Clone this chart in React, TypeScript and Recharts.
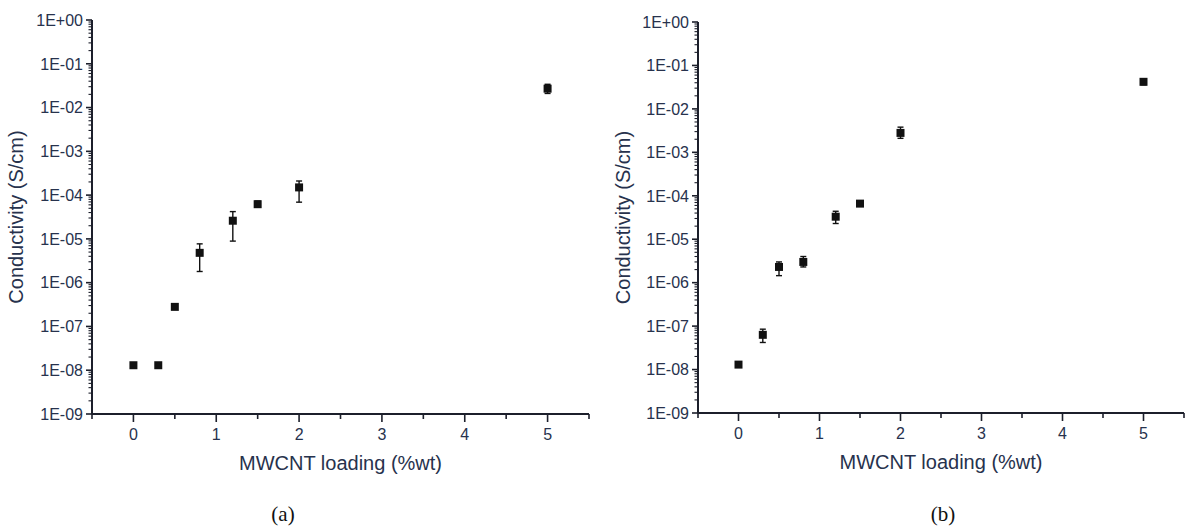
import React from 'react';
import { ScatterChart, Scatter, XAxis, YAxis, ZAxis, ErrorBar } from 'recharts';

// MWCNT loading (%wt)
const loadingA = [0, 0.3, 0.5, 0.8, 1.2, 1.5, 2, 5];
const conductivityA = [1.3e-8, 1.3e-8, 2.8e-7, 4.8e-6, 2.6e-5, 6.2e-5, 1.5e-4, 2.7e-2];
const lowA = [1.3e-8, 1.3e-8, 2.5e-7, 1.8e-6, 8.9e-6, 5.3e-5, 6.9e-5, 2.1e-2];
const highA = [1.3e-8, 1.3e-8, 3.2e-7, 7.7e-6, 4.2e-5, 7.3e-5, 2.1e-4, 3.4e-2];

const loadingB = [0, 0.3, 0.5, 0.8, 1.2, 1.5, 2, 5];
const conductivityB = [1.3e-8, 6.3e-8, 2.3e-6, 3.0e-6, 3.3e-5, 6.6e-5, 2.8e-3, 4.2e-2];
const lowB = [1.3e-8, 4.2e-8, 1.45e-6, 2.3e-6, 2.3e-5, 6.6e-5, 2.1e-3, 3.6e-2];
const highB = [1.3e-8, 8.5e-8, 3.0e-6, 4.0e-6, 4.4e-5, 6.6e-5, 3.8e-3, 4.9e-2];

const yMajorTicks = [1e-9, 1e-8, 1e-7, 1e-6, 1e-5, 1e-4, 1e-3, 1e-2, 1e-1, 1];
const xMajorTicks = [0, 1, 2, 3, 4, 5];
const xMinorTicks = [-0.5, 0.5, 1.5, 2.5, 3.5, 4.5, 5.5];

// log minor ticks 2..9 within each decade
const yMinorTicks = yMajorTicks.slice(0, -1).flatMap(d => [2, 3, 4, 5, 6, 7, 8, 9].map(m => m * d));
const yTicks = [...yMajorTicks, ...yMinorTicks].sort((a, b) => a - b);
const xTicks = [...xMajorTicks, ...xMinorTicks].sort((a, b) => a - b);

const TEXT = '#27324d';
const AXIS = '#1c1f2b';
const FONT = '"Liberation Sans", Arial, sans-serif';

const fmtExp = (v: number) => {
  const e = Math.round(Math.log10(v));
  return `1E${e >= 0 ? '+' : '-'}${String(Math.abs(e)).padStart(2, '0')}`;
};

const isMajorY = (v: number) => Math.abs(Math.log10(v) - Math.round(Math.log10(v))) < 1e-6;

const YTick = ({ x, y, payload }: any) => {
  const major = isMajorY(payload.value);
  return (
    <g>
      <line x1={x - (major ? 6 : 3.5)} x2={x} y1={y} y2={y} stroke={AXIS} strokeWidth={major ? 1.6 : 1.1} />
      {major && (
        <text x={x - 9} y={y} dy="0.36em" textAnchor="end" fontSize={16} fill={TEXT} fontFamily={FONT}>
          {fmtExp(payload.value)}
        </text>
      )}
    </g>
  );
};

const XTick = ({ x, y, payload }: any) => {
  const major = Number.isInteger(payload.value);
  return (
    <g>
      <line x1={x} x2={x} y1={y} y2={y + (major ? 8 : 5)} stroke={AXIS} strokeWidth={1.6} />
      {major && (
        <text x={x} y={y + 15} dy="0.71em" textAnchor="middle" fontSize={16} fill={TEXT} fontFamily={FONT}>
          {payload.value}
        </text>
      )}
    </g>
  );
};

interface PanelProps {
  loading: number[];
  conductivity: number[];
  low: number[];
  high: number[];
  width: number;
  yAxisWidth: number;
  titleX: number;
  top: number;
  bottom: number;
  right: number;
}

function Panel({ loading, conductivity, low, high, width, yAxisWidth, titleX, top, bottom, right }: PanelProps) {
  const data = loading.map((x, i) => ({
    x,
    y: conductivity[i],
    err: [conductivity[i] - low[i], high[i] - conductivity[i]],
  }));
  const xAxisHeight = 60;

  return (
    <ScatterChart
      width={width}
      height={530}
      margin={{ top, right, left: 0, bottom: 530 - bottom - xAxisHeight }}
    >
      <XAxis
        dataKey="x"
        type="number"
        domain={[-0.5, 5.5]}
        ticks={xTicks}
        interval={0}
        tick={<XTick />}
        tickLine={false}
        tickSize={0}
        tickMargin={0}
        axisLine={{ stroke: AXIS, strokeWidth: 2 }}
        height={xAxisHeight}
        allowDataOverflow
        label={{
          value: 'MWCNT loading (%wt)',
          position: 'insideTop',
          offset: 42,
          fontSize: 20,
          fill: TEXT,
          fontFamily: FONT,
        }}
      />
      <YAxis
        dataKey="y"
        type="number"
        scale="log"
        domain={[1e-9, 1]}
        ticks={yTicks}
        interval={0}
        tick={<YTick />}
        tickLine={false}
        tickSize={0}
        tickMargin={0}
        axisLine={{ stroke: AXIS, strokeWidth: 2 }}
        width={yAxisWidth}
        allowDataOverflow
        label={{
          content: ({ viewBox }: any) => {
            const cy = viewBox.y + viewBox.height / 2;
            return (
              <text
                x={titleX}
                y={cy}
                dy="0.35em"
                textAnchor="middle"
                transform={`rotate(-90 ${titleX} ${cy})`}
                fontSize={20}
                fill={TEXT}
                fontFamily={FONT}
              >
                Conductivity (S/cm)
              </text>
            );
          },
        }}
      />
      <ZAxis range={[90, 90]} />
      <Scatter data={data} shape="square" fill="#111" isAnimationActive={false}>
        <ErrorBar dataKey="err" direction="y" width={3} stroke="#111" strokeWidth={1.4} />
      </Scatter>
    </ScatterChart>
  );
}

export default function App() {
  const caption: React.CSSProperties = {
    position: 'absolute',
    top: 502,
    width: 60,
    textAlign: 'center',
    fontFamily: '"Liberation Serif", "Times New Roman", serif',
    fontSize: 21,
    color: '#111',
  };
  return (
    <div style={{ position: 'absolute', left: 0, top: 0, width: 1187, height: 530, background: '#fff' }}>
      <div style={{ position: 'absolute', left: 0, top: 0 }}>
        <Panel
          loading={loadingA}
          conductivity={conductivityA}
          low={lowA}
          high={highA}
          width={600}
          yAxisWidth={92}
          titleX={16}
          top={20}
          bottom={414}
          right={11}
        />
      </div>
      <div style={{ position: 'absolute', left: 600, top: 0 }}>
        <Panel
          loading={loadingB}
          conductivity={conductivityB}
          low={lowB}
          high={highB}
          width={587}
          yAxisWidth={98}
          titleX={23}
          top={22}
          bottom={413}
          right={3}
        />
      </div>
      <div style={{ ...caption, left: 253 }}>(a)</div>
      <div style={{ ...caption, left: 913 }}>(b)</div>
    </div>
  );
}
